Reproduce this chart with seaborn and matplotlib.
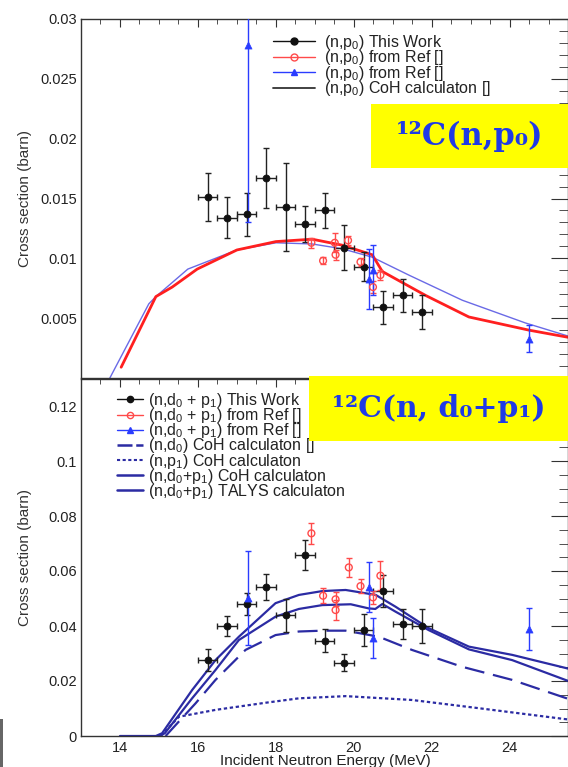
import matplotlib
matplotlib.use("Agg")
import matplotlib.pyplot as plt
import seaborn as sns
import numpy as np
from matplotlib.lines import Line2D
from matplotlib.patches import Rectangle
from matplotlib.ticker import MultipleLocator, FuncFormatter

# ---------------- data: top panel 12C(n,p0) ----------------
p0_work_x = [16.25, 16.75, 17.25, 17.75, 18.25, 18.75, 19.25, 19.75, 20.25, 20.75, 21.25, 21.75]
p0_work_y = [0.0151, 0.0134, 0.0137, 0.0167, 0.0143, 0.0129, 0.0140, 0.0109, 0.0093, 0.0059, 0.0069, 0.0055]
p0_work_err = [0.0020, 0.0017, 0.0018, 0.0025, 0.0037, 0.0015, 0.0015, 0.0019, 0.0012, 0.0014, 0.0014, 0.0014]
work_xerr = 0.25

p0_refA_x = [18.91, 19.21, 19.51, 19.53, 19.85, 20.17, 20.49, 20.68]
p0_refA_y = [0.0113, 0.0098, 0.0113, 0.0103, 0.0115, 0.0097, 0.0076, 0.0086]
p0_refA_err = [0.0004, 0.0003, 0.0008, 0.0004, 0.0004, 0.0003, 0.0005, 0.0004]

p0_refB_x = [17.28, 20.40, 20.49, 24.49]
p0_refB_y = [0.0278, 0.0083, 0.0090, 0.0033]
p0_refB_err = [0.0148, 0.0025, 0.0021, 0.0011]

p0_coh_blue_x = [13.74, 14.74, 14.92, 15.74, 17.0, 18.0, 18.93, 19.70, 20.47, 21.41, 22.78, 24.40, 25.5]
p0_coh_blue_y = [0.0, 0.0062, 0.0068, 0.0091, 0.0107, 0.0113, 0.0112, 0.0108, 0.0101, 0.0086, 0.0065, 0.0046, 0.0035]

p0_coh_red_x = [14.03, 14.92, 15.34, 15.98, 17.0, 18.0, 18.93, 19.70, 20.47, 20.73, 21.84, 22.95, 24.49, 25.5]
p0_coh_red_y = [0.0009, 0.0068, 0.0076, 0.0091, 0.0107, 0.0114, 0.0116, 0.0111, 0.0103, 0.0089, 0.0069, 0.0051, 0.0040, 0.0034]

# ---------------- data: bottom panel 12C(n,d0+p1) ----------------
dp_work_x = [16.25, 16.75, 17.25, 17.75, 18.25, 18.75, 19.25, 19.75, 20.25, 20.75, 21.25, 21.75]
dp_work_y = [0.0276, 0.0400, 0.0479, 0.0541, 0.0440, 0.0658, 0.0347, 0.0267, 0.0385, 0.0527, 0.0407, 0.0400]
dp_work_err = [0.0040, 0.0038, 0.0040, 0.0048, 0.0060, 0.0055, 0.0041, 0.0032, 0.0059, 0.0057, 0.0056, 0.0061]

dp_refA_x = [18.91, 19.21, 19.53, 19.53, 19.87, 20.17, 20.49, 20.68]
dp_refA_y = [0.0737, 0.0510, 0.0497, 0.0458, 0.0613, 0.0545, 0.0504, 0.0583]
dp_refA_err = [0.0038, 0.0027, 0.0025, 0.0035, 0.0033, 0.0025, 0.0025, 0.0053]

dp_refB_x = [17.28, 20.38, 20.50, 24.49]
dp_refB_y = [0.0501, 0.0541, 0.0357, 0.0389]
dp_refB_err = [0.0171, 0.0091, 0.0072, 0.0075]

talys_x = [14.0, 14.92, 15.08, 15.85, 16.45, 17.05, 17.99, 18.59, 19.19, 19.79, 20.56, 21.07, 21.92, 22.95, 24.06, 25.5]
talys_y = [0.0, 0.0, 0.001, 0.0167, 0.0276, 0.0361, 0.0483, 0.0513, 0.0527, 0.0531, 0.0513, 0.0470, 0.0392, 0.0325, 0.0295, 0.0245]

coh_dp_x = [15.0, 15.15, 15.85, 16.45, 17.05, 17.99, 18.59, 19.19, 19.92, 20.38, 20.55, 20.73, 21.07, 21.92, 22.95, 24.06, 25.5]
coh_dp_y = [0.0, 0.001, 0.0137, 0.0240, 0.0349, 0.0434, 0.0462, 0.0476, 0.0479, 0.0464, 0.0462, 0.0480, 0.0452, 0.0385, 0.0315, 0.0276, 0.0200]

coh_d0_x = [15.17, 15.94, 16.45, 17.22, 17.99, 18.59, 19.19, 19.79, 20.64, 21.49, 22.77, 24.06, 25.5]
coh_d0_y = [0.0, 0.0119, 0.0204, 0.0313, 0.0367, 0.0380, 0.0383, 0.0383, 0.0361, 0.0313, 0.0252, 0.0204, 0.0135]

coh_p0_x = [15.05, 15.51, 16.45, 17.74, 18.59, 19.79, 21.49, 23.21, 25.5]
coh_p0_y = [0.0, 0.0070, 0.0095, 0.0121, 0.0137, 0.0145, 0.0131, 0.0101, 0.0060]

top_labels = ["(n,p$_0$) This Work", "(n,p$_0$) from Ref []", "(n,p$_0$) from Ref []",
              "(n,p$_0$) CoH calculaton []"]
bot_labels = ["(n,d$_0$ + p$_1$) This Work", "(n,d$_0$ + p$_1$) from Ref []", "(n,d$_0$ + p$_1$) from Ref []",
              "(n,d$_0$) CoH calculaton []", "(n,p$_1$) CoH calculaton", "(n,d$_0$+p$_1$) CoH calculaton",
              "(n,d$_0$+p$_1$) TALYS calculaton"]
xticks = [14, 16, 18, 20, 22, 24]
title_top = "¹²C(n,p₀)"
title_bot = "¹²C(n, d₀+p₁)"
xlabel = "Incident Neutron Energy (MeV)"
ylabel = "Cross section (barn)"

# ---------------- style ----------------
sns.set_style("white")
plt.rcParams['font.family'] = ['Liberation Sans', 'DejaVu Sans']
plt.rcParams['mathtext.fontset'] = 'custom'
plt.rcParams['mathtext.rm'] = 'Liberation Sans'
plt.rcParams['mathtext.it'] = 'Liberation Sans'
plt.rcParams['axes.edgecolor'] = '#333333'
plt.rcParams['axes.linewidth'] = 1.0

W, H = 568, 767
fig = plt.figure(figsize=(W / 100, H / 100), dpi=100)
L = 81 / W
AW = 1.0005 - L
ax1 = fig.add_axes([L, 1 - 378 / H, AW, (378 - 19) / H])
ax2 = fig.add_axes([L, 1 - 736 / H, AW, (736 - 378.5) / H])

BLACK = '#111111'
RED = '#ff4a4a'
BLUE = '#2a3cff'
DBLUE = '#2b2ba3'

def points(ax, x, y, err, kind, xerr=None):
    if kind == 'work':
        ax.errorbar(x, y, yerr=err, xerr=xerr, fmt='none', ecolor='#222222', elinewidth=1.0,
                    capsize=2, capthick=1.0, zorder=3)
        sns.scatterplot(x=x, y=y, ax=ax, color=BLACK, s=26, edgecolor=BLACK, linewidth=0.5, zorder=4, legend=False)
    elif kind == 'refA':
        ax.errorbar(x, y, yerr=err, fmt='none', ecolor=RED, elinewidth=1.0, capsize=2, capthick=1.0, zorder=3)
        sns.scatterplot(x=x, y=y, ax=ax, marker='o', s=24, fc='none', ec=RED, linewidth=1.0, zorder=4, legend=False)
    else:
        ax.errorbar(x, y, yerr=err, fmt='none', ecolor=BLUE, elinewidth=1.0, capsize=2, capthick=1.0, zorder=3)
        sns.scatterplot(x=x, y=y, ax=ax, marker='^', s=26, color=BLUE, edgecolor=BLUE, linewidth=0.5, zorder=4, legend=False)

# ---------------- top panel ----------------
sns.lineplot(x=p0_coh_blue_x, y=p0_coh_blue_y, ax=ax1, color='#6a6ae6', lw=1.0, sort=False, estimator=None, zorder=2)
sns.lineplot(x=p0_coh_red_x, y=p0_coh_red_y, ax=ax1, color='#ff1f1f', lw=2.0, sort=False, estimator=None, zorder=2)
points(ax1, p0_work_x, p0_work_y, p0_work_err, 'work', xerr=work_xerr)
points(ax1, p0_refA_x, p0_refA_y, p0_refA_err, 'refA')
points(ax1, p0_refB_x, p0_refB_y, p0_refB_err, 'refB')

# ---------------- bottom panel ----------------
sns.lineplot(x=coh_p0_x, y=coh_p0_y, ax=ax2, color=DBLUE, lw=1.6, linestyle=(0, (1.5, 1.2)), sort=False, estimator=None)
sns.lineplot(x=coh_d0_x, y=coh_d0_y, ax=ax2, color=DBLUE, lw=1.6, linestyle=(0, (9, 4)), sort=False, estimator=None)
sns.lineplot(x=coh_dp_x, y=coh_dp_y, ax=ax2, color=DBLUE, lw=1.6, sort=False, estimator=None)
sns.lineplot(x=talys_x, y=talys_y, ax=ax2, color=DBLUE, lw=1.6, sort=False, estimator=None)
points(ax2, dp_work_x, dp_work_y, dp_work_err, 'work', xerr=work_xerr)
points(ax2, dp_refA_x, dp_refA_y, dp_refA_err, 'refA')
points(ax2, dp_refB_x, dp_refB_y, dp_refB_err, 'refB')

# ---------------- axes formatting ----------------
for ax in (ax1, ax2):
    ax.set_xlim(13, 25.5)
    ax.xaxis.set_major_locator(MultipleLocator(2))
    ax.xaxis.set_minor_locator(MultipleLocator(0.5))
    ax.tick_params(axis='both', which='both', direction='in', top=True, right=True,
                   colors='#333333', labelcolor='#222222', labelsize=10.5)
    ax.tick_params(axis='x', which='major', length=5.8, pad=3.5)
    ax.tick_params(axis='x', which='minor', length=3.4)
    ax.tick_params(axis='y', which='major', length=12, pad=3)
    ax.tick_params(axis='y', which='minor', length=6.3)
    ax.set_xlabel('')
    ax.set_ylabel(ylabel, fontsize=11, color='#333333')
    ax.yaxis.set_label_coords(-0.100, 0.5)

ax1.set_ylim(0, 0.03)
ax1.yaxis.set_major_locator(MultipleLocator(0.005))
ax1.yaxis.set_minor_locator(MultipleLocator(0.001))
ax1.yaxis.set_major_formatter(FuncFormatter(lambda v, p: '' if abs(v) < 1e-9 else f'{v:g}'))
ax1.tick_params(axis='x', labelbottom=False)

ax2.set_ylim(0, 0.13)
ax2.yaxis.set_major_locator(MultipleLocator(0.02))
ax2.yaxis.set_minor_locator(MultipleLocator(0.005))
ax2.yaxis.set_major_formatter(FuncFormatter(lambda v, p: '0' if abs(v) < 1e-9 else f'{v:g}'))
ax2.set_xticks(xticks)
ax2.set_xlabel(xlabel, fontsize=11, color='#222222')
ax2.xaxis.set_label_coords(0.501, -0.049)

# ---------------- legends ----------------
top_handles = [
    Line2D([], [], color=BLACK, lw=1.0, marker='o', ms=5),
    Line2D([], [], color=RED, lw=1.0, marker='o', ms=5, mfc='none'),
    Line2D([], [], color=BLUE, lw=1.0, marker='^', ms=5),
    Line2D([], [], color='#333333', lw=1.3),
]
leg1 = ax1.legend(top_handles, top_labels, loc='upper left', bbox_to_anchor=(273 / W, 1 - 33 / H),
                  bbox_transform=fig.transFigure, frameon=False, fontsize=11.5, borderpad=0,
                  borderaxespad=0, handlelength=2.6, handletextpad=0.6, labelspacing=-0.22)
for t in leg1.get_texts():
    t.set_color('#222222')

bot_handles = [
    Line2D([], [], color=BLACK, lw=1.0, marker='o', ms=4.5),
    Line2D([], [], color=RED, lw=1.0, marker='o', ms=4.5, mfc='none'),
    Line2D([], [], color=BLUE, lw=1.0, marker='^', ms=4.5),
    Line2D([], [], color=DBLUE, lw=1.8, linestyle=(0, (6, 1.5))),
    Line2D([], [], color=DBLUE, lw=1.5, linestyle=(0, (1.5, 1.2))),
    Line2D([], [], color=DBLUE, lw=1.8),
    Line2D([], [], color=DBLUE, lw=1.8),
]
leg2 = ax2.legend(bot_handles, bot_labels, loc='upper left', bbox_to_anchor=(117 / W, 1 - 391 / H),
                  bbox_transform=fig.transFigure, frameon=False, fontsize=11.5, borderpad=0,
                  borderaxespad=0, handlelength=1.6, handletextpad=0.35, labelspacing=-0.24)
for t in leg2.get_texts():
    t.set_color('#222222')

# ---------------- yellow labels ----------------
def ybox(x0, y0, x1, y1, text, fs):
    fig.patches.append(Rectangle((x0 / W, 1 - y1 / H), (x1 - x0) / W, (y1 - y0) / H,
                                 transform=fig.transFigure, facecolor='#ffff00', edgecolor='none', zorder=10))
    fig.text((x0 + x1) / 2 / W, 1 - (y0 + y1) / 2 / H, text, ha='center', va='center',
             fontsize=fs, color='#1f3ae6', family='DejaVu Serif', weight='bold', zorder=11)

ybox(371, 104, 569, 168, title_top, 22)
ybox(309, 376, 569, 441, title_bot, 21.5)

# little gray bar at bottom-left corner
fig.patches.append(Rectangle((0, 0), 3 / W, 48 / H, transform=fig.transFigure,
                             facecolor='#666666', edgecolor='none', zorder=10))

fig.savefig('out.png', dpi=100)
